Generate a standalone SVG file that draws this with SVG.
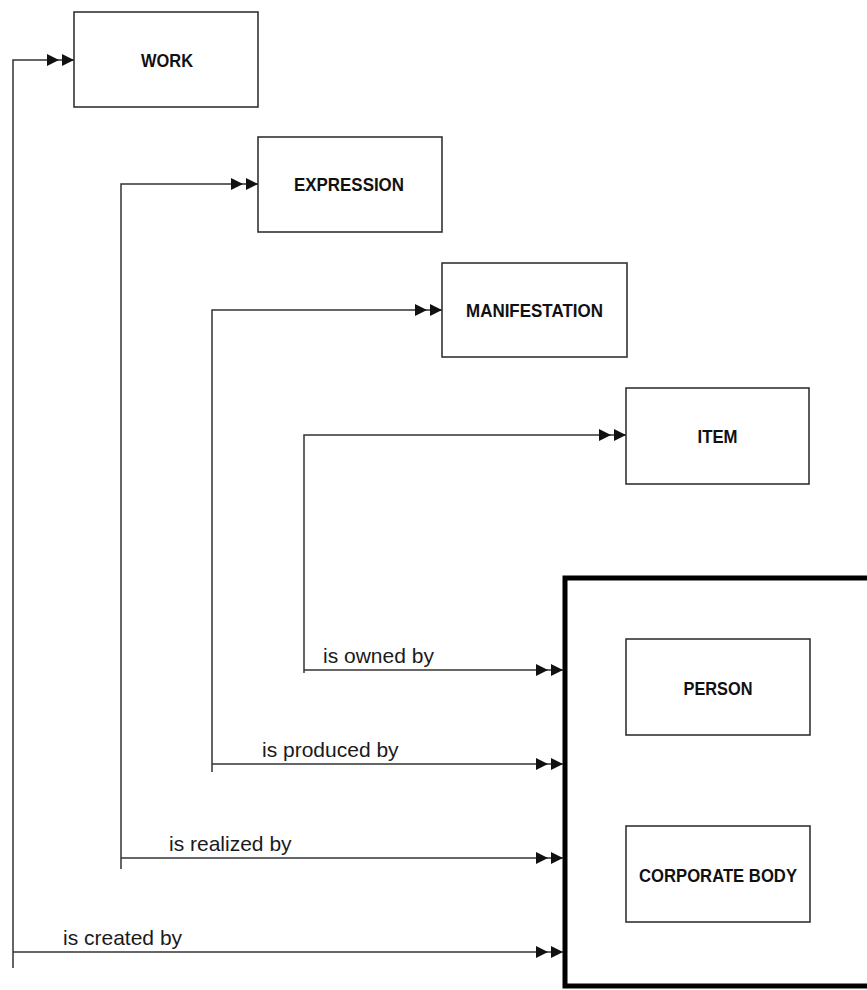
<svg xmlns="http://www.w3.org/2000/svg" width="867" height="990" viewBox="0 0 867 990">
<style>
.box{fill:#fff;stroke:#333;stroke-width:1.6}
.big{fill:none;stroke:#000;stroke-width:5}
.lbl{font-family:"Liberation Sans",Arial,sans-serif;font-size:18.5px;font-weight:bold;fill:#111;text-anchor:middle}
.rel{font-family:"Liberation Sans",Arial,sans-serif;font-size:21px;fill:#1a1a1a}
.ln{fill:none;stroke:#333;stroke-width:1.5}
</style>
<defs>
<marker id="dbl" markerUnits="userSpaceOnUse" markerWidth="28" markerHeight="14" refX="27" refY="6.5" orient="auto" viewBox="0 0 28 13">
<path d="M0,0.5 L12,6.5 L0,12.5 Z M15,0.5 L27,6.5 L15,12.5 Z" fill="#111"/>
</marker>
</defs>
<rect width="867" height="990" fill="#fff"/>
<g id="group-agents">
<rect class="big" x="565" y="578" width="320" height="408"/>
</g>
<g id="work"><rect class="box" x="74" y="12" width="184" height="95"/><text class="lbl" x="167" y="67" textLength="52" lengthAdjust="spacingAndGlyphs">WORK</text></g>
<g id="expression"><rect class="box" x="258" y="137" width="184" height="95"/><text class="lbl" x="349" y="191" textLength="110" lengthAdjust="spacingAndGlyphs">EXPRESSION</text></g>
<g id="manifestation"><rect class="box" x="442" y="263" width="185" height="94"/><text class="lbl" x="534.5" y="317" textLength="137" lengthAdjust="spacingAndGlyphs">MANIFESTATION</text></g>
<g id="item"><rect class="box" x="626" y="388" width="183" height="96"/><text class="lbl" x="717.5" y="443" textLength="40" lengthAdjust="spacingAndGlyphs">ITEM</text></g>
<g id="person"><rect class="box" x="626" y="639" width="184" height="96"/><text class="lbl" x="718" y="695" textLength="69" lengthAdjust="spacingAndGlyphs">PERSON</text></g>
<g id="corporate-body"><rect class="box" x="626" y="826" width="184" height="96"/><text class="lbl" x="718" y="882" textLength="158" lengthAdjust="spacingAndGlyphs">CORPORATE BODY</text></g>
<g id="connectors">
<path class="ln" d="M13,968 L13,60 L74,60" marker-end="url(#dbl)"/>
<path class="ln" d="M121,869 L121,184 L258,184" marker-end="url(#dbl)"/>
<path class="ln" d="M212,772 L212,310 L442,310" marker-end="url(#dbl)"/>
<path class="ln" d="M304,673 L304,435 L626,435" marker-end="url(#dbl)"/>
<path class="ln" d="M304,670 L563,670" marker-end="url(#dbl)"/>
<path class="ln" d="M212,764 L563,764" marker-end="url(#dbl)"/>
<path class="ln" d="M121,858 L563,858" marker-end="url(#dbl)"/>
<path class="ln" d="M13,952 L563,952" marker-end="url(#dbl)"/>
<text class="rel" x="323" y="663">is owned by</text>
<text class="rel" x="262" y="757">is produced by</text>
<text class="rel" x="169" y="851">is realized by</text>
<text class="rel" x="63" y="945">is created by</text>
</g>
</svg>
